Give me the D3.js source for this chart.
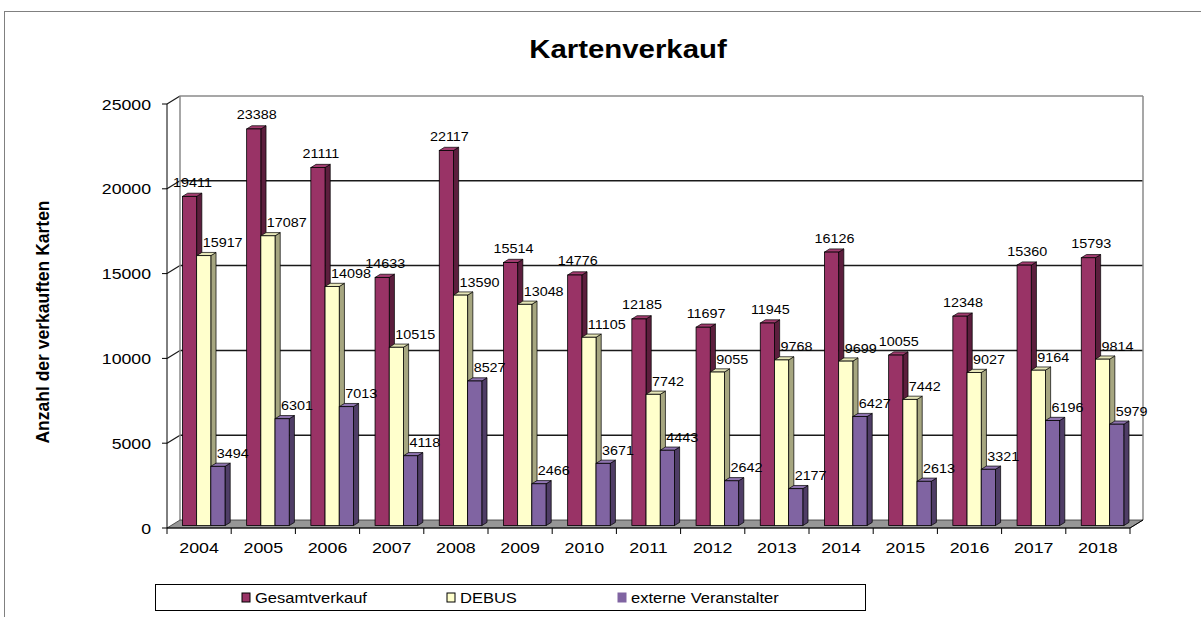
<!doctype html>
<html lang="de">
<head>
  <meta charset="utf-8">
  <title>Kartenverkauf</title>
  <script src="https://d3js.org/d3.v7.min.js"></script>
  <style>
    body { margin: 0; background: #fff; }
    text { font-family: Arial, "Liberation Sans", sans-serif; fill: #000; }
  </style>
</head>
<body>
  <div id="chart"></div>
  <script type="text/javascript">
    // data
    var years = ['2004','2005','2006','2007','2008','2009','2010','2011','2012','2013','2014','2015','2016','2017','2018'];
    var gesamt = [19411,23388,21111,14633,22117,15514,14776,12185,11697,11945,16126,10055,12348,15360,15793];
    var debus  = [15917,17087,14098,10515,13590,13048,11105,7742,9055,9768,9699,7442,9027,9164,9814];
    var extern = [3494,6301,7013,4118,8527,2466,3671,4443,2642,2177,6427,2613,3321,6196,5979];
    var seriesNames = ['Gesamtverkauf','DEBUS','externe Veranstalter'];
    var yTicks = [0,5000,10000,15000,20000,25000];

    var width = 1201, height = 617;

    // colours: front, side, top
    var faces = [
      {front: '#993366', side: '#5c1e3d', top: '#a33d70'},
      {front: '#ffffcc', side: '#a6a680', top: '#e6e6b8'},
      {front: '#8064a2', side: '#4f3d66', top: '#8f74b0'}
    ];
    var series = [gesamt, debus, extern];

    // 3d offset between front and back of the plot box
    var DX = 13, DY = -8;

    var svg = d3.select('#chart').append('svg')
      .attr('width', width).attr('height', height);

    // stretched text helper (the original chart is a bit wider than tall)
    function label(g, x, y, str, size, sx, anchor, weight) {
      return g.append('text')
        .attr('transform', 'translate(' + x + ',' + y + ') scale(' + sx + ',1)')
        .attr('text-anchor', anchor)
        .style('font-size', size + 'px')
        .style('font-weight', weight || 'normal')
        .text(str);
    }

    // outer chart frame
    svg.append('rect')
      .attr('x', 4.5).attr('y', 11.5).attr('width', 1220).attr('height', 640)
      .attr('fill', 'none').attr('stroke', '#808080').attr('stroke-width', 1);

    // title
    label(svg, 628, 58, 'Kartenverkauf', 26, 1.13, 'middle', 'bold');

    var x = d3.scaleBand().domain(years).range([167, 1130]);
    var y = d3.scaleLinear().domain([0, 25000]).range([528, 104]);
    var bw = x.bandwidth();

    var x0 = x.range()[0], x1 = x.range()[1];
    var yTop = y(25000), yBase = y(0);

    // back wall
    svg.append('rect')
      .attr('x', x0 + DX).attr('y', yTop + DY)
      .attr('width', x1 - x0).attr('height', yBase - yTop)
      .attr('fill', '#fff');

    // gridlines on back wall and left wall
    var grid = svg.append('g');
    yTicks.filter(function(t) { return t > 0; }).forEach(function(t) {
      var top = t === 25000;
      grid.append('line')
        .attr('x1', x0 + DX).attr('x2', x1 + DX)
        .attr('y1', y(t) + DY).attr('y2', y(t) + DY)
        .attr('stroke', top ? '#8a8a8a' : '#1a1a1a')
        .attr('stroke-width', 1.5);
      grid.append('line')
        .attr('x1', x0).attr('x2', x0 + DX)
        .attr('y1', y(t)).attr('y2', y(t) + DY)
        .attr('stroke', '#1a1a1a').attr('stroke-width', 1.2);
    });
    // wall edges
    [x0 + DX, x1 + DX].forEach(function(xx) {
      grid.append('line')
        .attr('x1', xx).attr('x2', xx)
        .attr('y1', yTop + DY).attr('y2', yBase + DY)
        .attr('stroke', '#8a8a8a').attr('stroke-width', 1.5);
    });

    // floor
    svg.append('polygon')
      .attr('points', [[x0, yBase], [x1, yBase], [x1 + DX, yBase + DY], [x0 + DX, yBase + DY]].join(' '))
      .attr('fill', '#969696').attr('stroke', '#333').attr('stroke-width', 0.8);

    // bars
    var f = 0.3;                // depth position of the bar front
    var barW = bw * 0.221;
    var ddx = DX * 0.4, ddy = DY * 0.4;
    var bars = svg.append('g');
    var labels = [];

    years.forEach(function(yr, i) {
      series.forEach(function(vals, s) {
        var v = vals[i];
        var bx = x(yr) + bw * 0.18 + s * barW + f * DX;
        var bt = y(v) + f * DY;
        var bb = y(0) + f * DY;
        var c = faces[s];
        bars.append('polygon')
          .attr('points', [[bx + barW, bb], [bx + barW + ddx, bb + ddy], [bx + barW + ddx, bt + ddy], [bx + barW, bt]].join(' '))
          .attr('fill', c.side).attr('stroke', '#000').attr('stroke-width', 0.7);
        bars.append('polygon')
          .attr('points', [[bx, bt], [bx + ddx, bt + ddy], [bx + barW + ddx, bt + ddy], [bx + barW, bt]].join(' '))
          .attr('fill', c.top).attr('stroke', '#000').attr('stroke-width', 0.7);
        bars.append('rect')
          .attr('x', bx).attr('y', bt).attr('width', barW).attr('height', bb - bt)
          .attr('fill', c.front).attr('stroke', '#000').attr('stroke-width', 0.8);
        labels.push({v: v, s: s, bx: bx, bt: bt});
      });
    });

    // data labels
    var lg = svg.append('g');
    labels.forEach(function(d) {
      if (d.s === 0) {
        label(lg, d.bx + barW / 2 + 3, d.bt - 9.5, d.v, 12.5, 1.15, 'middle');
      } else {
        label(lg, d.bx + 6, d.bt - 8.5, d.v, 12.5, 1.15, 'start');
      }
    });

    // value axis
    var ax = svg.append('g');
    ax.append('line')
      .attr('x1', x0).attr('x2', x0).attr('y1', yTop).attr('y2', yBase)
      .attr('stroke', '#000').attr('stroke-width', 1);
    yTicks.forEach(function(t) {
      ax.append('line')
        .attr('x1', x0 - 5).attr('x2', x0).attr('y1', y(t)).attr('y2', y(t))
        .attr('stroke', '#000').attr('stroke-width', 1);
      label(ax, x0 - 16, y(t) + 5.5, t, 15, 1.18, 'end');
    });

    // category axis
    ax.append('line')
      .attr('x1', x0).attr('x2', x1).attr('y1', yBase).attr('y2', yBase)
      .attr('stroke', '#000').attr('stroke-width', 1);
    ax.append('line')
      .attr('x1', x1).attr('x2', x1 + DX).attr('y1', yBase).attr('y2', yBase + DY)
      .attr('stroke', '#000').attr('stroke-width', 1);
    years.forEach(function(yr) {
      ax.append('line')
        .attr('x1', x(yr)).attr('x2', x(yr)).attr('y1', yBase).attr('y2', yBase + 6)
        .attr('stroke', '#000').attr('stroke-width', 1);
      label(ax, x(yr) + bw / 2, yBase + 25, yr, 15.5, 1.15, 'middle');
    });
    ax.append('line')
      .attr('x1', x1).attr('x2', x1).attr('y1', yBase).attr('y2', yBase + 6)
      .attr('stroke', '#000').attr('stroke-width', 1);

    // y axis title
    svg.append('text')
      .attr('transform', 'translate(49,322) rotate(-90)')
      .attr('text-anchor', 'middle')
      .style('font-size', '17.5px').style('font-weight', 'bold')
      .text('Anzahl der verkauften Karten');

    // legend
    var leg = svg.append('g');
    leg.append('rect')
      .attr('x', 155.5).attr('y', 584.5).attr('width', 710).attr('height', 26)
      .attr('fill', '#fff').attr('stroke', '#000').attr('stroke-width', 1);
    var legX = [242, 447, 618];
    seriesNames.forEach(function(n, s) {
      leg.append('rect')
        .attr('x', legX[s]).attr('y', 593).attr('width', 8).attr('height', 9)
        .attr('fill', faces[s].front)
        .attr('stroke', s === 2 ? faces[s].front : '#000').attr('stroke-width', 1);
      label(leg, legX[s] + 13, 603, n, 14, 1.18, 'start');
    });
  </script>
</body>
</html>
